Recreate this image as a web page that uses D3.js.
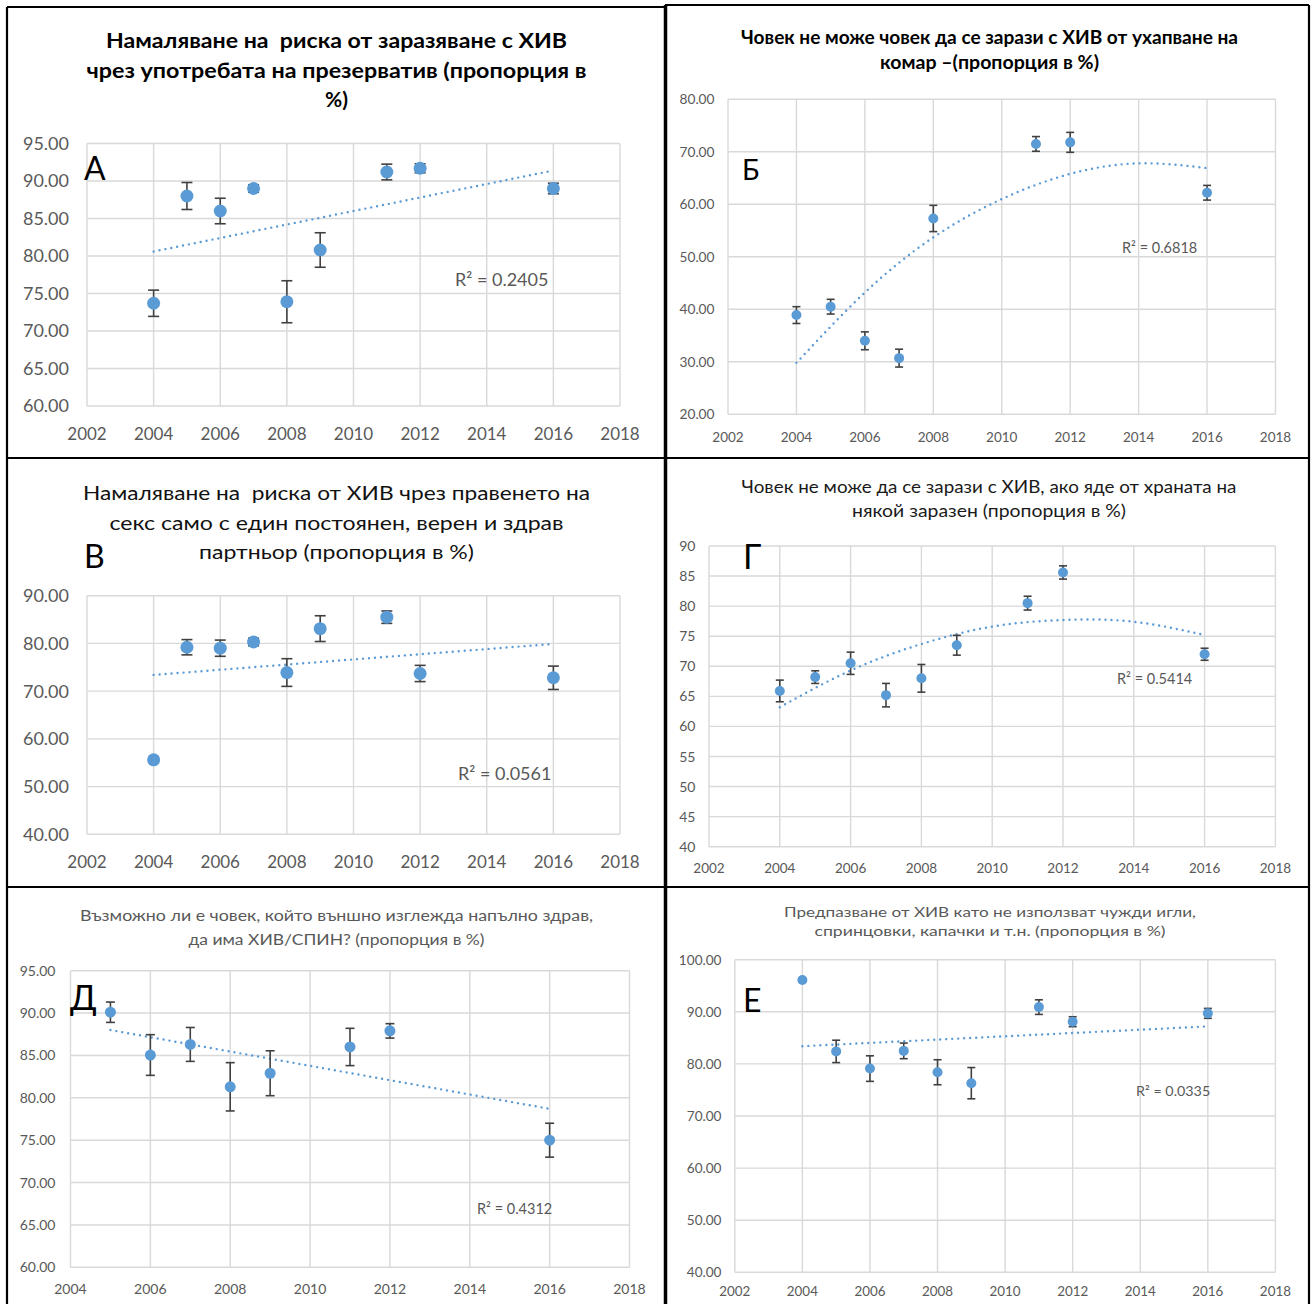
<!DOCTYPE html>
<html><head><meta charset="utf-8">
<script src="https://cdn.jsdelivr.net/npm/d3@7"></script>
<style>body{margin:0;background:#fff} svg{display:block} text{white-space:pre}</style>
</head><body><svg id="c" width="1312" height="1304"></svg>
<script>
// ---------- DATA ----------
const titleA = ["Намаляване на  риска от заразяване с ХИВ", "чрез употребата на презерватив (пропорция в", "%)"];
const yearsA = [2004, 2005, 2006, 2007, 2008, 2009, 2011, 2012, 2016];
const valuesA = [73.7, 88.0, 86.0, 89.0, 73.9, 80.8, 91.2, 91.7, 89.0];
const errorsA = [1.75, 1.8, 1.7, 0.5, 2.8, 2.3, 1.05, 0.6, 0.7];
const trendYearsA = [2004, 2016];
const trendA = [80.6, 91.4];
const r2A = "R² = 0.2405";
const yTicksA = [60, 65, 70, 75, 80, 85, 90, 95];

const titleB = ["Човек не може човек да се зарази с ХИВ от ухапване на", "комар –(пропорция в %)"];
const yearsB = [2004, 2005, 2006, 2007, 2008, 2011, 2012, 2016];
const valuesB = [38.9, 40.5, 34.0, 30.7, 57.3, 71.5, 71.8, 62.2];
const errorsB = [1.6, 1.4, 1.7, 1.7, 2.5, 1.4, 1.9, 1.4];
const trendYearsB = [2004, 2006, 2008, 2010, 2012, 2014, 2016];
const trendB = [29.8, 43.2, 53.7, 61.0, 65.8, 67.8, 66.9];
const r2B = "R² = 0.6818";
const yTicksB = [20, 30, 40, 50, 60, 70, 80];

const titleV = ["Намаляване на  риска от ХИВ чрез правенето на", "секс само с един постоянен, верен и здрав", "партньор (пропорция в %)"];
const yearsV = [2004, 2005, 2006, 2007, 2008, 2009, 2011, 2012, 2016];
const valuesV = [55.6, 79.2, 79.0, 80.3, 73.9, 83.1, 85.5, 73.7, 72.8];
const errorsV = [0.4, 1.6, 1.7, 0.8, 2.9, 2.7, 1.3, 1.7, 2.45];
const trendYearsV = [2004, 2016];
const trendV = [73.4, 79.9];
const r2V = "R² = 0.0561";
const yTicksV = [40, 50, 60, 70, 80, 90];

const titleG = ["Човек не може да се зарази с ХИВ, ако яде от храната на", "някой заразен (пропорция в %)"];
const yearsG = [2004, 2005, 2006, 2007, 2008, 2009, 2011, 2012, 2016];
const valuesG = [65.9, 68.2, 70.5, 65.2, 68.0, 73.5, 80.5, 85.6, 72.0];
const errorsG = [1.8, 1.05, 1.85, 1.95, 2.3, 1.65, 1.15, 1.1, 1.0];
const trendYearsG = [2004, 2006, 2008, 2010, 2012, 2014, 2016];
const trendG = [63.2, 69.3, 73.7, 76.6, 77.7, 77.4, 75.2];
const r2G = "R² = 0.5414";
const yTicksG = [40, 45, 50, 55, 60, 65, 70, 75, 80, 85, 90];

const titleD = ["Възможно ли е човек, който външно изглежда напълно здрав,", "да има ХИВ/СПИН? (пропорция в %)"];
const yearsD = [2005, 2006, 2007, 2008, 2009, 2011, 2012, 2016];
const valuesD = [90.1, 85.05, 86.3, 81.3, 82.9, 86.0, 87.9, 75.0];
const errorsD = [1.2, 2.4, 2.0, 2.85, 2.65, 2.2, 0.85, 2.0];
const trendYearsD = [2005, 2016];
const trendD = [88.0, 78.7];
const r2D = "R² = 0.4312";
const yTicksD = [60, 65, 70, 75, 80, 85, 90, 95];

const titleE = ["Предпазване от ХИВ като не използват чужди игли,", "спринцовки, капачки и т.н. (пропорция в %)"];
const yearsE = [2004, 2005, 2006, 2007, 2008, 2009, 2011, 2012, 2016];
const valuesE = [96.1, 82.4, 79.1, 82.5, 78.4, 76.3, 90.9, 88.1, 89.7];
const errorsE = [0.3, 2.15, 2.45, 1.5, 2.4, 3.0, 1.4, 0.95, 0.95];
const trendYearsE = [2004, 2016];
const trendE = [83.4, 87.2];
const r2E = "R² = 0.0335";
const yTicksE = [40, 50, 60, 70, 80, 90, 100];

const xTicksFrom2002 = [2002, 2004, 2006, 2008, 2010, 2012, 2014, 2016, 2018];
const xTicksFrom2004 = [2004, 2006, 2008, 2010, 2012, 2014, 2016, 2018];
const panelLetters = ["А", "Б", "В", "Г", "Д", "Е"];

// ---------- LAYOUT ----------
const layouts = [
  {plot:[87,143.5,620,406], yLabX:69, xLabY:440, yFs:18, xFs:17, fmt:".2f",
   title:{fs:21, bold:true, color:"#000", cx:336.5, ys:[48.3,78.3,106.7], ws:[461,500,null]},
   letter:{x:84,y:180,fs:32}, r2:{x:455,y:286,fs:18}, r:6.5, cap:5.5},
  {plot:[728,99.3,1275.5,414.3], yLabX:714.5, xLabY:442, yFs:13.7, xFs:13.5, fmt:".2f",
   title:{fs:18.5, bold:true, color:"#000", cx:989.5, ys:[44,69], ws:[497,219]},
   letter:{x:742,y:180,fs:28}, r2:{x:1122,y:253,fs:14.5}, r:5, cap:4},
  {plot:[87,595.7,620,834.3], yLabX:69, xLabY:868, yFs:18, xFs:17, fmt:".2f",
   title:{fs:18.5, bold:false, color:"#111", cx:336.5, ys:[500,529.5,559], ws:[507,454,275]},
   letter:{x:84,y:568,fs:32}, r2:{x:458,y:780,fs:18}, r:6.5, cap:5.5},
  {plot:[709,546,1275.4,846.7], yLabX:695.5, xLabY:873, yFs:14, xFs:13.5, fmt:"d",
   title:{fs:16.5, bold:false, color:"#1a1a1a", cx:989, ys:[492.7,517.3], ws:[495,274]},
   letter:{x:743,y:569,fs:34}, r2:{x:1117,y:684,fs:14.5}, r:5, cap:4},
  {plot:[70.5,970.7,629.5,1267.3], yLabX:55.5, xLabY:1294, yFs:14, xFs:14, fmt:".2f",
   title:{fs:14.5, bold:false, color:"#595959", cx:336.5, ys:[921,945], ws:[513,296]},
   letter:{x:70,y:1010,fs:34}, r2:{x:477,y:1214,fs:14.5}, r:5.5, cap:4.5},
  {plot:[734.8,959.7,1275.4,1272.3], yLabX:721.5, xLabY:1296, yFs:13.6, xFs:13.4, fmt:".2f",
   title:{fs:13, bold:false, color:"#595959", cx:990, ys:[916.7,935.7], ws:[412,351]},
   letter:{x:743,y:1012,fs:32}, r2:{x:1136,y:1096,fs:14.3}, r:5, cap:4}
];

const panels = [
  {title:titleA, years:yearsA, values:valuesA, errors:errorsA, tx:trendYearsA, ty:trendA, r2:r2A, yTicks:yTicksA, xTicks:xTicksFrom2002},
  {title:titleB, years:yearsB, values:valuesB, errors:errorsB, tx:trendYearsB, ty:trendB, r2:r2B, yTicks:yTicksB, xTicks:xTicksFrom2002},
  {title:titleV, years:yearsV, values:valuesV, errors:errorsV, tx:trendYearsV, ty:trendV, r2:r2V, yTicks:yTicksV, xTicks:xTicksFrom2002},
  {title:titleG, years:yearsG, values:valuesG, errors:errorsG, tx:trendYearsG, ty:trendG, r2:r2G, yTicks:yTicksG, xTicks:xTicksFrom2002},
  {title:titleD, years:yearsD, values:valuesD, errors:errorsD, tx:trendYearsD, ty:trendD, r2:r2D, yTicks:yTicksD, xTicks:xTicksFrom2004},
  {title:titleE, years:yearsE, values:valuesE, errors:errorsE, tx:trendYearsE, ty:trendE, r2:r2E, yTicks:yTicksE, xTicks:xTicksFrom2002}
];

const FONT = "Lato, 'Open Sans', sans-serif";
const svg = d3.select("#c");
svg.append("rect").attr("width",1312).attr("height",1304).attr("fill","#fff");

panels.forEach((p, i) => {
  const L = layouts[i];
  const [x0,y0,x1,y1] = L.plot;
  const x = d3.scaleLinear().domain([p.xTicks[0], p.xTicks[p.xTicks.length-1]]).range([x0,x1]);
  const y = d3.scaleLinear().domain([p.yTicks[0], p.yTicks[p.yTicks.length-1]]).range([y1,y0]);
  const g = svg.append("g");

  // grid
  g.selectAll(".hg").data(p.yTicks).join("line")
    .attr("x1",x0).attr("x2",x1).attr("y1",d=>y(d)).attr("y2",d=>y(d))
    .attr("stroke","#d9d9d9").attr("stroke-width",1.4);
  g.selectAll(".vg").data(p.xTicks).join("line")
    .attr("x1",d=>x(d)).attr("x2",d=>x(d)).attr("y1",y0).attr("y2",y1)
    .attr("stroke","#d9d9d9").attr("stroke-width",1.4);

  // tick labels
  const fmt = d3.format(L.fmt);
  g.selectAll(".yl").data(p.yTicks).join("text")
    .attr("x",L.yLabX).attr("y",d=>y(d)+L.yFs*0.36)
    .attr("text-anchor","end").attr("font-family",FONT).attr("font-size",L.yFs)
    .attr("fill","#595959").text(d=>fmt(d));
  g.selectAll(".xl").data(p.xTicks).join("text")
    .attr("x",d=>x(d)).attr("y",L.xLabY)
    .attr("text-anchor","middle").attr("font-family",FONT).attr("font-size",L.xFs)
    .attr("fill","#595959").text(d=>d);

  // trendline
  const line = d3.line().x(d=>x(d[0])).y(d=>y(d[1]))
    .curve(p.tx.length > 2 ? d3.curveNatural : d3.curveLinear);
  g.append("path").datum(p.tx.map((t,k)=>[t,p.ty[k]]))
    .attr("d",line).attr("fill","none").attr("stroke","#5b9bd5")
    .attr("stroke-width",2.4).attr("stroke-linecap","round").attr("stroke-dasharray","0 6");

  // error bars
  const pts = p.years.map((yr,k)=>({yr, v:p.values[k], e:p.errors[k]}));
  const eb = g.selectAll(".eb").data(pts).join("g").attr("stroke","#404040").attr("stroke-width",1.6);
  eb.append("line").attr("x1",d=>x(d.yr)).attr("x2",d=>x(d.yr)).attr("y1",d=>y(d.v+d.e)).attr("y2",d=>y(d.v-d.e));
  eb.append("line").attr("x1",d=>x(d.yr)-L.cap).attr("x2",d=>x(d.yr)+L.cap).attr("y1",d=>y(d.v+d.e)).attr("y2",d=>y(d.v+d.e));
  eb.append("line").attr("x1",d=>x(d.yr)-L.cap).attr("x2",d=>x(d.yr)+L.cap).attr("y1",d=>y(d.v-d.e)).attr("y2",d=>y(d.v-d.e));

  // markers
  g.selectAll(".pt").data(pts).join("circle")
    .attr("cx",d=>x(d.yr)).attr("cy",d=>y(d.v)).attr("r",L.r).attr("fill","#5b9bd5");

  // R2 label
  g.append("text").attr("x",L.r2.x).attr("y",L.r2.y).attr("font-family",FONT)
    .attr("font-size",L.r2.fs).attr("fill","#595959").text(p.r2);

  // title
  const T = L.title;
  p.title.forEach((s,k)=>{
    const t = g.append("text").attr("x",T.cx).attr("y",T.ys[k]).attr("text-anchor","middle")
      .attr("font-family",FONT).attr("font-size",T.fs).attr("font-weight",T.bold?"bold":"normal")
      .attr("fill",T.color).text(s);
    if (T.ws[k]) t.attr("textLength",T.ws[k]).attr("lengthAdjust","spacingAndGlyphs");
  });

  // panel letter
  g.append("text").attr("x",L.letter.x).attr("y",L.letter.y).attr("font-family",FONT)
    .attr("font-size",L.letter.fs).attr("fill","#000").text(panelLetters[i]);
});

// panel frames
const frames = [
  [7,7,7,1304],[665.5,5,665.5,1304],[1309,5,1309,1304],
  [7,7,665,7],[665,5,1309,5],[7,458,1309,458],[7,887,1309,887]
];
svg.selectAll(".fr").data(frames).join("line")
  .attr("x1",d=>d[0]).attr("y1",d=>d[1]).attr("x2",d=>d[2]).attr("y2",d=>d[3])
  .attr("stroke","#000").attr("stroke-width",d=>d[0]===665.5?3.5:2.2);
</script></body></html>
